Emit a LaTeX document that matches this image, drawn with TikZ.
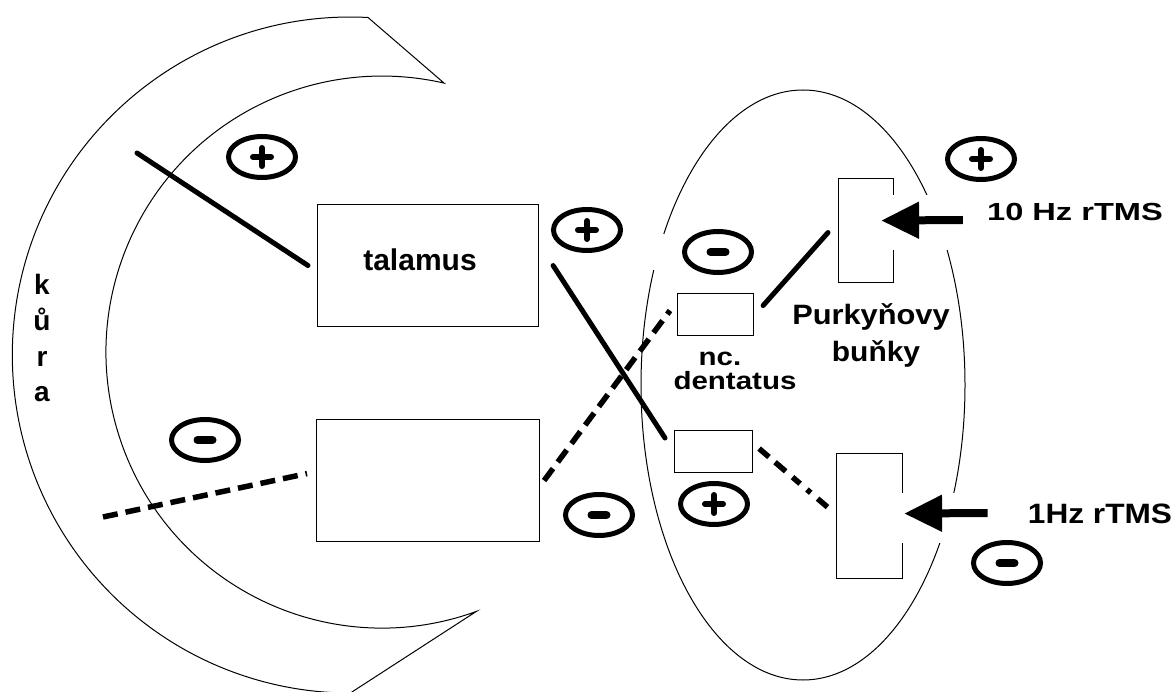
\documentclass[tikz,border=0pt]{standalone}
\usepackage{fontspec}
\setmainfont{Liberation Sans}
\usetikzlibrary{shapes.geometric,arrows.meta,calc}
\tikzset{
  outline/.style={line width=1pt},
  boxnode/.style={draw, line width=1.1pt, inner sep=0pt, anchor=north west},
  gap/.style={fill=white, draw=none},
  thickline/.style={line width=5pt, line cap=round},
  dashline/.style={line width=5.5pt, dash pattern=on 15pt off 8pt},
  dotdashline/.style={line width=5.5pt, dash pattern=on 13pt off 8pt on 14pt off 9pt on 10pt off 9pt on 5pt off 9pt},
  sign/.style={ellipse, draw, line width=5pt, minimum width=67pt, minimum height=41pt, inner sep=0pt},
  bar/.style={line width=6pt, line cap=round},
  stimarrow/.style={line width=8pt, -{Triangle[length=38pt,width=35pt]}},
  lbl/.style={inner sep=0pt, anchor=base, font=\bfseries}
}
\newcommand\plussign[2]{\node[sign] (#1) at (#2) {};
  \draw[bar] ($(#1)+(-9,0)$) -- ($(#1)+(9,0)$) ($(#1)+(0,-9)$) -- ($(#1)+(0,9)$);}
\newcommand\minussign[2]{\node[sign] (#1) at (#2) {};
  \draw[bar, line width=8pt] ($(#1)+(-7.5,0)$) -- ($(#1)+(7.5,0)$);}
\begin{document}
\begin{tikzpicture}[x=1pt,y=-1pt]
\fill[white] (0,0) rectangle (1176,692);
\useasboundingbox (0,0) rectangle (1176,692);

% cortex crescent (kura)
\draw[outline] (368,17.5) arc[start angle=-87, end angle=-270, radius=338]
  -- (476.4,611.4) arc[start angle=70, end angle=283, radius=276] -- cycle;

% cerebellum ellipse
\draw[outline] (803,385) ellipse[x radius=162, y radius=295];

% boxes
\node[boxnode, minimum width=221pt, minimum height=122pt] (tal) at (317,204) {};
\node[boxnode, minimum width=223pt, minimum height=122pt] (lb) at (316,419) {};
\node[boxnode, minimum width=76pt, minimum height=42pt] (nct) at (677,293) {};
\node[boxnode, minimum width=78pt, minimum height=42pt] (ncb) at (674,430) {};
\node[boxnode, minimum width=55pt, minimum height=104pt] (pt) at (838,178) {};
\node[boxnode, minimum width=66pt, minimum height=125pt] (pb) at (836,453) {};

% white gaps behind signs and arrows
\fill[gap] (652,234) rectangle (760,270);
\fill[gap] (868,195) rectangle (975,250);
\fill[gap] (894,493) rectangle (1000,543);

% labels
\node[lbl, font=\bfseries\fontsize{30}{34}\selectfont] (talL) at (420,271) {talamus};
\node[lbl, font=\bfseries\fontsize{28}{32}\selectfont] (k1) at (42,295) {k};
\node[lbl, font=\bfseries\fontsize{28}{32}\selectfont] (k2) at (42,331) {ů};
\node[lbl, font=\bfseries\fontsize{28}{32}\selectfont] (k3) at (42,367) {r};
\node[lbl, font=\bfseries\fontsize{28}{32}\selectfont] (k4) at (42,402) {a};
\node[lbl, font=\bfseries\fontsize{25}{29}\selectfont, xscale=1.18] (nc1) at (720,366) {nc.};
\node[lbl, font=\bfseries\fontsize{25}{29}\selectfont, xscale=1.18] (nc2) at (735,390) {dentatus};
\node[lbl, font=\bfseries\fontsize{28}{32}\selectfont, xscale=1.1] (pk1) at (871,325) {Purkyňovy};
\node[lbl, font=\bfseries\fontsize{28}{32}\selectfont, xscale=1.07] (pk2) at (876,362) {buňky};
\node[lbl, font=\bfseries\fontsize{24.7}{29}\selectfont, xscale=1.32] (t10) at (1075,221) {10 Hz rTMS};
\node[lbl, font=\bfseries\fontsize{28}{32}\selectfont, xscale=1.13] (t1) at (1100,523) {1Hz rTMS};

% stimulation arrows
\draw[stimarrow] ($(t10.base west)+(-24,-1)$) -- ($(pt.east)+(-13,-10)$);
\draw[stimarrow] ($(t1.base west)+(-40,-10)$) -- ($(pb.east)+(1,-2.5)$);

% connections
\coordinate (cx1) at (137,153);
\coordinate (cx2) at (103,517);
\draw[thickline] (cx1) -- ($(tal.west)+(-9,0)$);
\draw[thickline] ($(tal.east)+(14,0)$) -- ($(ncb.north west)+(-9,8)$);
\draw[thickline] ($(nct.east)+(9,-9)$) -- ($(pt.west)+(-10,2)$);
\draw[dashline] (cx2) -- ($(lb.west)+(-9,-7)$);
\draw[dashline] ($(lb.east)+(4,0)$) -- ($(nct.west)+(-7,-4)$);
\draw[dotdashline] ($(ncb.east)+(6,-3)$) -- ($(pb.west)+(-8,-8.5)$);

% signs
\plussign{s1}{262,157}
\plussign{s2}{587,230}
\minussign{s3}{718,252}
\plussign{s4}{981,159}
\minussign{s5}{205,440}
\minussign{s6}{599,515}
\plussign{s7}{714,504}
\minussign{s8}{1007,563}
\end{tikzpicture}
\end{document}
